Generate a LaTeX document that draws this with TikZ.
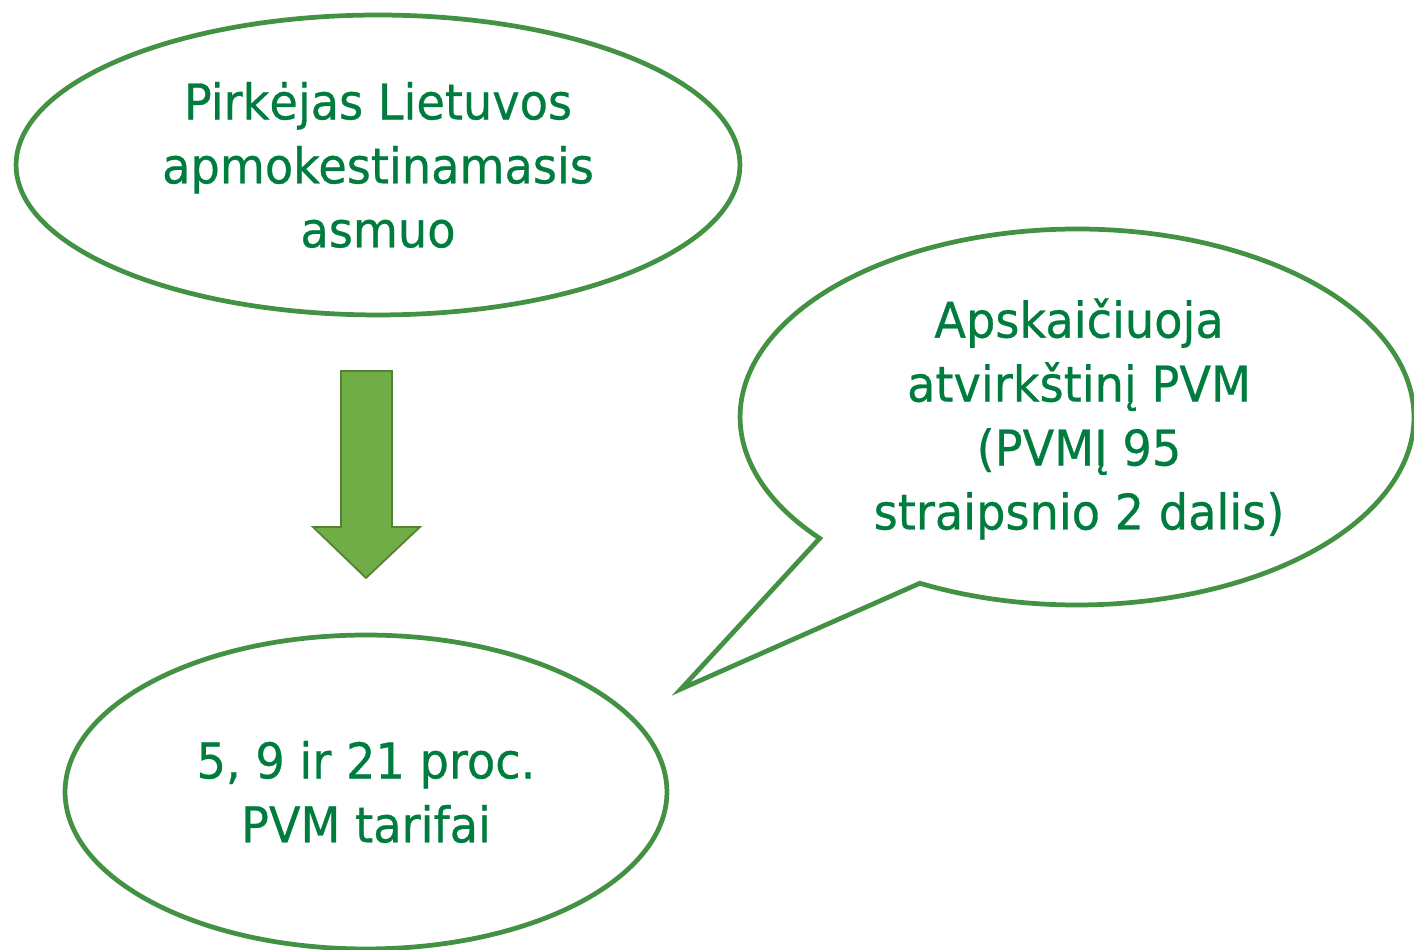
\documentclass[tikz,border=0pt]{standalone}
\usepackage{fontspec}
\setmainfont[FakeStretch=0.94, FakeBold=0.6]{DejaVu Sans}
\usetikzlibrary{shapes.geometric,calc}
\definecolor{txtgreen}{RGB}{0,125,62}
\definecolor{linegreen}{RGB}{67,146,68}
\definecolor{arrowfill}{RGB}{112,173,71}
\definecolor{arrowline}{RGB}{84,130,53}
\tikzset{
  outline/.style={draw=linegreen, line width=2.7pt, line join=miter},
  bubble/.style={ellipse, outline, inner sep=0pt, text=txtgreen, align=center,
    font=\fontsize{28}{36.4}\selectfont},
  bubbletext/.style={text=txtgreen, align=center, font=\fontsize{28}{36.4}\selectfont},
  bigarrow/.style={fill=arrowfill, draw=arrowline, line width=1pt, line join=miter}
}
\begin{document}
\begin{tikzpicture}[x=0.02cm, y=0.02cm]
\useasboundingbox (0,0) rectangle (1414,950);
\node[bubble, minimum width=14.48cm, minimum height=6cm] (buyer) at (378,785)
  {Pirkėjas Lietuvos\\apmokestinamasis\\asmuo};
\node[bubble, minimum width=12.04cm, minimum height=6.28cm] (rates) at (366,158)
  {5, 9 ir 21 proc.\\PVM tarifai};
\draw[bigarrow] (341,579) -- (392,579) -- (392,423) -- (420,423) -- (366,372)
  -- (313,423) -- (341,423) -- cycle;
\coordinate (cc) at (1077,533);
\coordinate (tip) at (681,261);
\coordinate (p2) at ($(cc)+(242.2:6.74cm and 3.76cm)$);
\draw[outline] (p2)
  arc[start angle=242.2, end angle=580.2, x radius=6.74cm, y radius=3.76cm]
  -- (tip) -- cycle;
\node[bubbletext] (calc) at (1079,531)
  {Apskaičiuoja\\atvirkštinį PVM\\(PVMĮ 95\\straipsnio 2 dalis)};
\end{tikzpicture}
\end{document}
